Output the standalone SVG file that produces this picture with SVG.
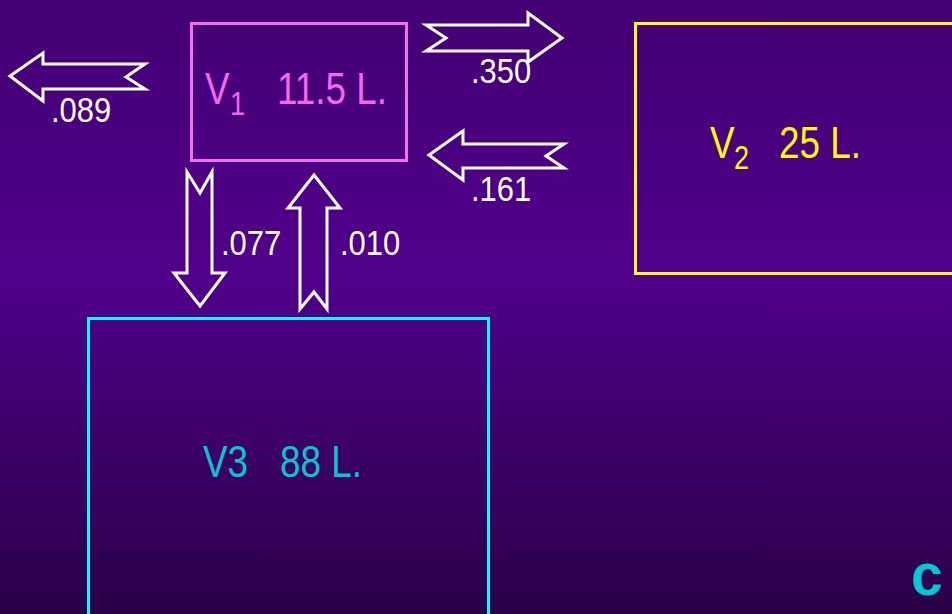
<svg xmlns="http://www.w3.org/2000/svg" width="952" height="614" viewBox="0 0 952 614">
<defs>
<linearGradient id="bg" x1="0" y1="0" x2="0" y2="1">
<stop offset="0" stop-color="#430072"/>
<stop offset="0.45" stop-color="#51008c"/>
<stop offset="0.7" stop-color="#3e006a"/>
<stop offset="1" stop-color="#2a0048"/>
</linearGradient>
<style>
text{font-family:"Liberation Sans",Arial,sans-serif}
.box{fill:none;stroke-width:3}
.arrow{fill:none;stroke:#ffffff;stroke-width:3;stroke-linejoin:miter}
.lbl{fill:#ffffff;font-size:36px}
.big{font-size:45px}
.sub{font-size:33px}
</style>
</defs>
<rect x="0" y="0" width="952" height="614" fill="url(#bg)"/>

<g id="node-v1">
<rect class="box" x="191.5" y="23.5" width="215" height="137" stroke="#f070f0"/>
<g fill="#f068ee">
<text class="big" transform="translate(205,104) scale(0.82,1)">V</text>
<text class="sub" transform="translate(230,115) scale(0.82,1)">1</text>
<text class="big" transform="translate(277,104) scale(0.82,1)">11.5 L.</text>
</g>
</g>

<g id="node-v2">
<rect class="box" x="635.5" y="23.5" width="330" height="250" stroke="#ffff00"/>
<g fill="#ffff00">
<text class="big" transform="translate(710,158) scale(0.82,1)">V</text>
<text class="sub" transform="translate(734,169) scale(0.82,1)">2</text>
<text class="big" transform="translate(779,158) scale(0.82,1)">25 L.</text>
</g>
</g>

<g id="node-v3">
<rect class="box" x="88.5" y="318.5" width="400" height="310" stroke="#00ffff"/>
<g fill="#00c8cc">
<text class="big" transform="translate(203,477) scale(0.82,1)">V3</text>
<text class="big" transform="translate(280,477) scale(0.82,1)">88 L.</text>
</g>
</g>

<g id="connectors">
<polygon class="arrow" points="10,76 43,53 43,64 145,64 126,77 145,89 43,89 43,101"/>
<text class="lbl" transform="translate(51,122) scale(0.86,1)">.089</text>

<polygon class="arrow" points="426,25 528,25 528,13 562,38 528,62 528,51 426,51 446,38"/>
<text class="lbl" transform="translate(471,83) scale(0.86,1)">.350</text>

<polygon class="arrow" points="429,155 463,131 463,144 564,144 546,156 564,168 463,168 463,180"/>
<text class="lbl" transform="translate(471,201) scale(0.86,1)">.161</text>

<polygon class="arrow" points="187,172 200,193 212,172 212,273 225,273 200,306 174,273 187,273"/>
<text class="lbl" transform="translate(221,255) scale(0.86,1)">.077</text>

<polygon class="arrow" points="314,175 340,208 327,208 327,309 314,292 300,309 300,208 288,208"/>
<text class="lbl" transform="translate(340,255) scale(0.86,1)">.010</text>
</g>

<g id="logo">
<text transform="translate(911,595) scale(0.95,1)" font-size="60" font-weight="bold" fill="#00c8d0">c</text>
</g>
</svg>
